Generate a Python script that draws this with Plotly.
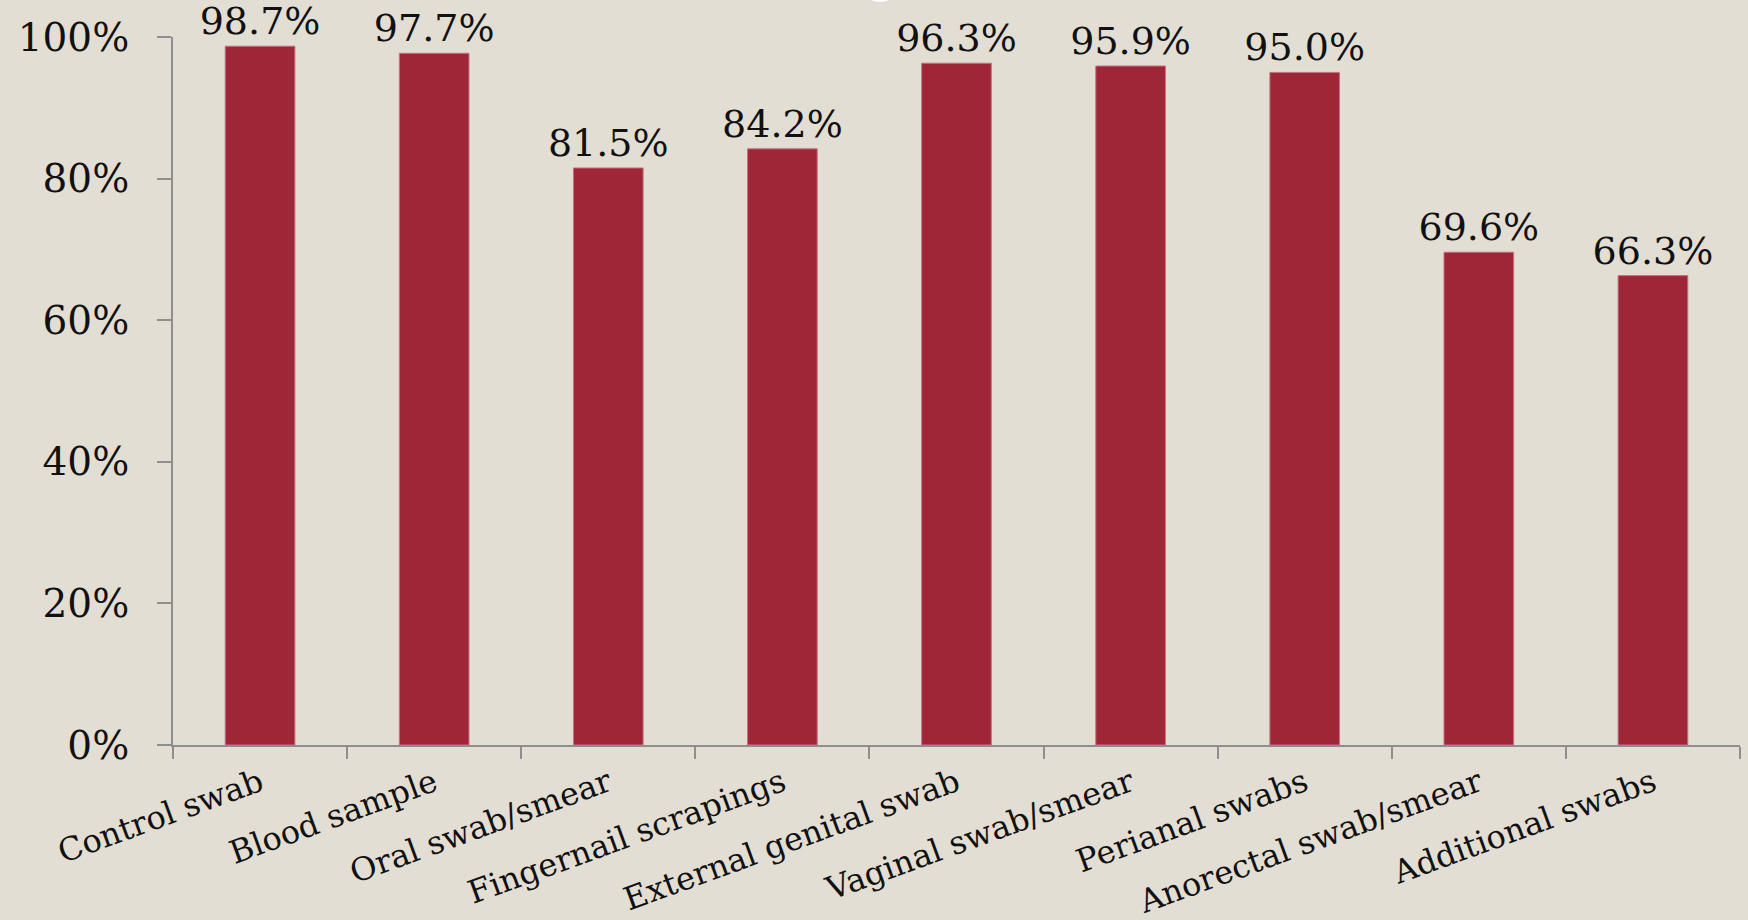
import plotly.graph_objects as go

categories = [
    "Control swab", "Blood sample", "Oral swab/smear", "Fingernail scrapings",
    "External genital swab", "Vaginal swab/smear", "Perianal swabs",
    "Anorectal swab/smear", "Additional swabs",
]
values = [0.987, 0.977, 0.815, 0.842, 0.963, 0.959, 0.950, 0.696, 0.663]
labels = ["98.7%", "97.7%", "81.5%", "84.2%", "96.3%", "95.9%", "95.0%", "69.6%", "66.3%"]

BG = "#E3DED3"
BAR = "#9F2637"
AXIS = "#8E8E8E"
FONT = "DejaVu Serif"

W, H = 1748, 920
ML, MR, MT, MB = 173, 8, 37, 175
PW, PH = W - ML - MR, H - MT - MB


def px_x(p):
    return (p - ML) / PW


def px_y(p):
    return (H - MB - p) / PH


fig = go.Figure(
    go.Bar(
        x=categories,
        y=values,
        text=labels,
        textposition="outside",
        constraintext="none",
        textfont=dict(family=FONT, size=38, color="#111111"),
        cliponaxis=False,
        marker=dict(color=BAR, line=dict(color="#C47080", width=1)),
        width=0.4,
    )
)

fig.update_layout(
    width=W,
    height=H,
    margin=dict(l=ML, r=MR, t=MT, b=MB),
    paper_bgcolor=BG,
    plot_bgcolor=BG,
    showlegend=False,
    font=dict(family=FONT, color="#111111"),
    shapes=[
        dict(
            type="circle", xref="paper", yref="paper",
            x0=px_x(858), x1=px_x(902), y0=px_y(2), y1=px_y(-42),
            fillcolor="white", line=dict(width=0), layer="above",
        )
    ],
)

fig.update_xaxes(
    type="category",
    automargin=False,
    tickson="boundaries",
    ticks="outside",
    ticklen=12,
    tickwidth=2,
    tickcolor=AXIS,
    showline=True,
    linecolor=AXIS,
    linewidth=2,
    showgrid=False,
    tickangle=-20,
    ticklabelstandoff=5,
    tickfont=dict(family=FONT, size=32, color="#111111"),
)

fig.update_yaxes(
    automargin=False,
    range=[0, 1],
    dtick=0.2,
    tickformat=".0%",
    ticks="outside",
    ticklen=14,
    tickwidth=2,
    tickcolor=AXIS,
    showline=True,
    linecolor=AXIS,
    linewidth=2,
    showgrid=False,
    zeroline=False,
    ticklabelstandoff=20,
    tickfont=dict(family=FONT, size=39, color="#111111"),
)

fig.write_html("out.html")
